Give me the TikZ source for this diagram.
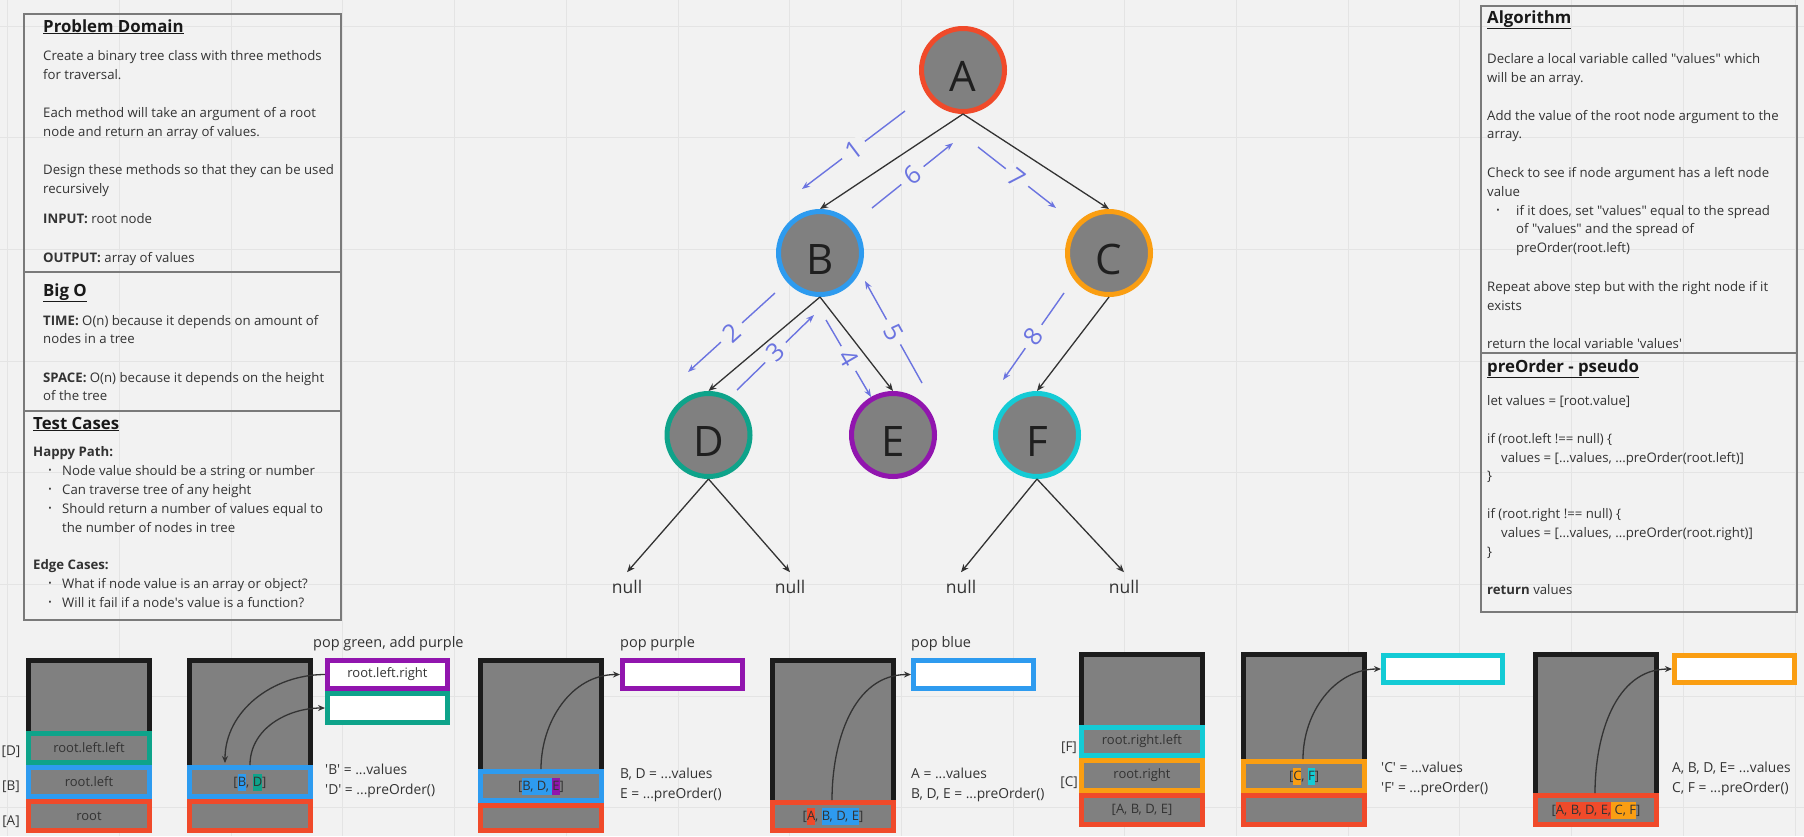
\documentclass[tikz,border=0pt]{standalone}
\usepackage{fontspec}
\setmainfont{Open Sans}
\usetikzlibrary{arrows.meta}
\definecolor{bgc}{HTML}{F2F2F2}
\definecolor{gridc}{HTML}{E4E4E4}
\definecolor{redc}{HTML}{F04A2A}
\definecolor{bluec}{HTML}{2E9BEF}
\definecolor{orangec}{HTML}{FA9E12}
\definecolor{tealc}{HTML}{0EA38A}
\definecolor{purplec}{HTML}{9115AE}
\definecolor{cyanc}{HTML}{14CBD5}
\definecolor{grayc}{HTML}{808080}
\definecolor{framec}{HTML}{1C1C1C}
\definecolor{annc}{HTML}{6B74E0}
\definecolor{txtc}{HTML}{333333}
\definecolor{panelc}{HTML}{7A7A7A}
\newcommand\hlt[2]{{\setlength{\fboxsep}{0pt}\colorbox{#1}{\rule[-4.5pt]{0pt}{17pt}#2}}}
\newcommand\q{\textquotesingle}
\newcommand\dq{\textquotedbl}
\begin{document}
\begin{tikzpicture}[x=1pt,y=-1pt,
  ptxt/.style={anchor=base west, inner sep=0pt, text=txtc, font=\fontsize{13.2}{16}\selectfont},
  ptitle/.style={anchor=base west, inner sep=0pt, text=black!90, font=\bfseries\fontsize{16.8}{19}\selectfont},
  pbullet/.style={anchor=base, inner sep=0pt, text=txtc, font=\fontsize{9}{9}\selectfont},
  panel/.style={draw=panelc, line width=1.3pt},
  tn/.style={circle, minimum size=83pt, line width=5pt, draw=#1, fill=grayc, inner sep=0pt,
    text height=42pt, text depth=0pt, font=\fontsize{42}{42}\selectfont, text=black!88},
  tedge/.style={draw=txtc, line width=1.3pt, -{Stealth[length=8pt,width=6.5pt]}},
  nulltxt/.style={inner sep=0pt, outer ysep=7.5pt, anchor=base, font=\fontsize{17.5}{20}\selectfont, text=txtc},
  ann/.style={draw=annc, line width=1.4pt, -{Stealth[length=8pt,width=6pt]}},
  annlab/.style={sloped, midway, fill=bgc, inner xsep=7pt, inner ysep=0pt, text=annc, font=\fontsize{25}{25}\selectfont},
  frame/.style={draw=framec, fill=grayc, line width=5pt, inner sep=0pt, minimum width=121pt, minimum height=170pt},
  cbox/.style={draw=#1, fill=grayc, line width=5pt, inner sep=0pt, minimum width=121pt, text=txtc, font=\fontsize{13}{15}\selectfont},
  wbox/.style={draw=#1, fill=white, line width=5pt, inner sep=0pt, minimum width=120pt, text=txtc, font=\fontsize{13}{15}\selectfont},
  side/.style={anchor=base west, inner sep=0pt, text=txtc, font=\fontsize{13.8}{16}\selectfont},
  caption/.style={anchor=base west, inner sep=0pt, text=txtc, font=\fontsize{14.5}{17}\selectfont},
  lbl/.style={inner sep=0pt, text=txtc, font=\fontsize{13.5}{16}\selectfont},
  sarrow/.style={draw=txtc, line width=1.3pt, -{Stealth[length=7pt,width=6pt]}}
]
\path[use as bounding box, fill=bgc] (0,0) rectangle (1804,836);
\foreach \i in {0,...,16} \draw[gridc, line width=1pt] ({7.8+111.7*\i},0) -- ({7.8+111.7*\i},836);
\foreach \j in {0,...,7} \draw[gridc, line width=1pt] (0,{26+111.7*\j}) -- (1804,{26+111.7*\j});

% ---------- left panel ----------
\draw[panel] (24,14) rectangle (341,620);
\draw[panel] (24,272) -- (341,272);
\draw[panel] (24,411) -- (341,411);
\node[ptitle] (pdt) at (43,32) {\underline{Problem Domain}};
\node[ptxt] (pd1) at (43,60) {Create a binary tree class with three methods};
\node[ptxt] (pd2) at (43,79) {for traversal.};
\node[ptxt] (pd3) at (43,117) {Each method will take an argument of a root};
\node[ptxt] (pd4) at (43,136) {node and return an array of values.};
\node[ptxt] (pd5) at (43,174) {Design these methods so that they can be used};
\node[ptxt] (pd6) at (43,193) {recursively};
\node[ptxt] (pd7) at (43,223) {\textbf{INPUT:} root node};
\node[ptxt] (pd8) at (43,262) {\textbf{OUTPUT:} array of values};
\node[ptitle] (bot) at (43,296) {\underline{Big O}};
\node[ptxt] (bo1) at (43,325) {\textbf{TIME:} O(n) because it depends on amount of};
\node[ptxt] (bo2) at (43,343) {nodes in a tree};
\node[ptxt] (bo3) at (43,382) {\textbf{SPACE:} O(n) because it depends on the height};
\node[ptxt] (bo4) at (43,400) {of the tree};
\node[ptitle] (tct) at (33,429) {\underline{Test Cases}};
\node[ptxt] (tc1) at (33,456) {\textbf{Happy Path:}};
\node[pbullet] (tb1) at (50,473) {•};
\node[ptxt] (tc2) at (62,475) {Node value should be a string or number};
\node[pbullet] (tb2) at (50,492) {•};
\node[ptxt] (tc3) at (62,494) {Can traverse tree of any height};
\node[pbullet] (tb3) at (50,511) {•};
\node[ptxt] (tc4) at (62,513) {Should return a number of values equal to};
\node[ptxt] (tc5) at (62,532) {the number of nodes in tree};
\node[ptxt] (tc6) at (33,569) {\textbf{Edge Cases:}};
\node[pbullet] (tb4) at (50,586) {•};
\node[ptxt] (tc7) at (62,588) {What if node value is an array or object?};
\node[pbullet] (tb5) at (50,605) {•};
\node[ptxt] (tc8) at (62,607) {Will it fail if a node\q s value is a function?};

% ---------- right panel ----------
\draw[panel] (1481,6) rectangle (1797,612);
\draw[panel] (1481,353) -- (1797,353);
\node[ptitle] (alt) at (1487,23) {\underline{Algorithm}};
\node[ptxt] (al1) at (1487,63) {Declare a local variable called \dq values\dq{} which};
\node[ptxt] (al2) at (1487,82) {will be an array.};
\node[ptxt] (al3) at (1487,120) {Add the value of the root node argument to the};
\node[ptxt] (al4) at (1487,138) {array.};
\node[ptxt] (al5) at (1487,177) {Check to see if node argument has a left node};
\node[ptxt] (al6) at (1487,196) {value};
\node[pbullet] (ab1) at (1498,213) {•};
\node[ptxt] (al7) at (1516,215) {if it does, set \dq values\dq{} equal to the spread};
\node[ptxt] (al8) at (1516,233) {of \dq values\dq{} and the spread of};
\node[ptxt] (al9) at (1516,252) {preOrder(root.left)};
\node[ptxt] (al10) at (1487,291) {Repeat above step but with the right node if it};
\node[ptxt] (al11) at (1487,310) {exists};
\node[ptxt] (al12) at (1487,348) {return the local variable \q values\q};
\node[ptitle] (pst) at (1487,372) {\underline{preOrder - pseudo}};
\node[ptxt] (ps1) at (1487,405) {let values = [root.value]};
\node[ptxt] (ps2) at (1487,443) {if (root.left !== null) \{};
\node[ptxt] (ps3) at (1501,462) {values = [...values, ...preOrder(root.left)]};
\node[ptxt] (ps4) at (1487,480) {\}};
\node[ptxt] (ps5) at (1487,518) {if (root.right !== null) \{};
\node[ptxt] (ps6) at (1501,537) {values = [...values, ...preOrder(root.right)]};
\node[ptxt] (ps7) at (1487,556) {\}};
\node[ptxt] (ps8) at (1487,594) {\textbf{return} values};

% ---------- tree ----------
\node[tn=redc] (A) at (963,70) {A};
\node[tn=bluec] (B) at (820,253) {B};
\node[tn=orangec] (C) at (1109,253) {C};
\node[tn=tealc] (D) at (708.5,435) {D};
\node[tn=purplec] (E) at (893,435) {E};
\node[tn=cyanc] (F) at (1037,435) {F};
\node[nulltxt] (n1) at (627,593) {null};
\node[nulltxt] (n2) at (790,593) {null};
\node[nulltxt] (n3) at (961,593) {null};
\node[nulltxt] (n4) at (1124,593) {null};
\draw[tedge] (A.south) -- (B.north);
\draw[tedge] (A.south) -- (C.north);
\draw[tedge] (B.south) -- (D.north);
\draw[tedge] (B.south) -- (E.north);
\draw[tedge] (C.south) -- (F.north);
\draw[tedge] (D.south) -- (n1.north);
\draw[tedge] (D.south) -- (n2.north);
\draw[tedge] (F.south) -- (n3.north);
\draw[tedge] (F.south) -- (n4.north);

% traversal annotations
\coordinate (s1) at (905,111); \coordinate (e1) at (802,189);
\coordinate (s6) at (872,208); \coordinate (e6) at (953,143);
\coordinate (s7) at (978,147); \coordinate (e7) at (1056,208);
\coordinate (s2) at (775,293); \coordinate (e2) at (688,372);
\coordinate (s3) at (737,390); \coordinate (e3) at (814,315);
\coordinate (s4) at (826,320); \coordinate (e4) at (871,397);
\coordinate (s5) at (922,383); \coordinate (e5) at (865,281);
\coordinate (s8) at (1064,293); \coordinate (e8) at (1003,380);
\draw[ann] (s1) -- node[annlab] {1} (e1);
\draw[ann] (s2) -- node[annlab] {2} (e2);
\draw[ann] (s3) -- node[annlab] {3} (e3);
\draw[ann] (s4) -- node[annlab] {4} (e4);
\draw[ann] (s5) -- node[annlab] {5} (e5);
\draw[ann] (s6) -- node[annlab] {6} (e6);
\draw[ann] (s7) -- node[annlab] {7} (e7);
\draw[ann] (s8) -- node[annlab] {8} (e8);

% ---------- stacks ----------
% stack 1
\node[frame] (f1) at (89,745.5) {};
\node[cbox=tealc, minimum height=29pt] (s1d) at (89,748) {root.left.left};
\node[cbox=bluec, minimum height=29pt] (s1b) at (89,782) {root.left};
\node[cbox=redc, minimum height=29pt] (s1a) at (89,816) {root};
\node[lbl] (l1d) at (11,752) {[D]};
\node[lbl] (l1b) at (11,787) {[B]};
\node[lbl] (l1a) at (11,822) {[A]};

% stack 2
\node[frame] (f2) at (250,745.5) {};
\node[cbox=bluec, minimum height=29pt] (s2b) at (250,782) {[\hlt{bluec}{B}, \hlt{tealc}{D}]};
\node[cbox=redc, minimum height=29pt] (s2a) at (250,816) {};
\node[wbox=purplec, minimum height=28pt] (s2p) at (387.5,674.5) {root.left.right};
\node[wbox=tealc, minimum height=29pt] (s2t) at (387.5,708) {};
\node[caption] (cap2) at (313,647) {pop green, add purple};
\coordinate (c2a) at (225,763);
\coordinate (c2b) at (250,765);
\draw[sarrow] (s2p.west) to[out=180,in=90] (c2a);
\draw[sarrow] (c2b) to[out=90,in=180] (s2t.west);
\node[side] (t2a) at (325,774) {\q B\q{} = ...values};
\node[side] (t2b) at (325,794) {\q D\q{} = ...preOrder()};

% stack 3
\node[frame] (f3) at (541,745.5) {};
\node[cbox=bluec, minimum height=29pt] (s3b) at (541,786) {[\hlt{bluec}{B, D, }\hlt{purplec}{E}]};
\node[cbox=redc, minimum height=25pt] (s3a) at (541,818) {};
\node[wbox=purplec, minimum height=28pt] (s3p) at (682.5,674.5) {};
\node[caption] (cap3) at (620,647) {pop purple};
\coordinate (c3) at (541,769);
\draw[sarrow] (c3) to[out=90,in=180] (s3p.west);
\node[side] (t3a) at (620,778) {B, D = ...values};
\node[side] (t3b) at (620,798) {E = ...preOrder()};

% stack 4
\node[frame] (f4) at (833,745.5) {};
\node[cbox=redc, minimum height=28pt] (s4a) at (833,816.5) {[\hlt{redc}{A}, \hlt{bluec}{B, D, E}]};
\node[wbox=bluec, minimum height=28pt] (s4b) at (973.5,674.5) {};
\node[caption] (cap4) at (911,647) {pop blue};
\coordinate (c4) at (832,800);
\draw[sarrow] (c4) to[out=90,in=180] (s4b.west);
\node[side] (t4a) at (911,778) {A = ...values};
\node[side] (t4b) at (911,798) {B, D, E = ...preOrder()};

% stack 5
\node[frame] (f5) at (1142,739.5) {};
\node[cbox=cyanc, minimum height=28pt] (s5f) at (1142,741.5) {root.right.left};
\node[cbox=orangec, minimum height=30pt] (s5c) at (1142,775.5) {root.right};
\node[cbox=redc, minimum height=29pt] (s5a) at (1142,810) {[A, B, D, E]};
\node[lbl] (l5f) at (1069,748) {[F]};
\node[lbl] (l5c) at (1069,783) {[C]};

% stack 6
\node[frame] (f6) at (1304,739.5) {};
\node[cbox=orangec, minimum height=29pt] (s6c) at (1304,776) {[\hlt{orangec}{C}, \hlt{cyanc}{F}]};
\node[cbox=redc, minimum height=29pt] (s6a) at (1304,810) {};
\node[wbox=cyanc, minimum height=27pt, minimum width=119pt] (s6x) at (1443,669) {};
\coordinate (c6) at (1303,759);
\draw[sarrow] (c6) to[out=90,in=180] (s6x.west);
\node[side] (t6a) at (1381,772) {\q C\q{} = ...values};
\node[side] (t6b) at (1381,792) {\q F\q{} = ...preOrder()};

% stack 7
\node[frame] (f7) at (1596,739.5) {};
\node[cbox=redc, minimum height=29pt] (s7a) at (1596,810) {[\hlt{redc}{A, B, D, E,}\hlt{orangec}{ C, F}]};
\node[wbox=orangec, minimum height=27pt] (s7x) at (1734.5,669) {};
\coordinate (c7) at (1595,793);
\draw[sarrow] (c7) to[out=90,in=180] (s7x.west);
\node[side] (t7a) at (1672,772) {A, B, D, E= ...values};
\node[side] (t7b) at (1672,792) {C, F = ...preOrder()};
\end{tikzpicture}
\end{document}
